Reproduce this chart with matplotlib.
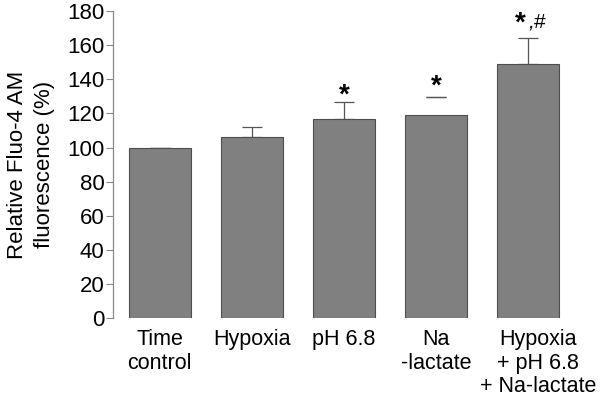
import matplotlib
matplotlib.use('Agg')
import matplotlib.pyplot as plt
import matplotlib.transforms as mtransforms

# Data
groups = ['Time\ncontrol', 'Hypoxia', 'pH 6.8', 'Na\n-lactate',
          'Hypoxia\n+ pH 6.8\n+ Na-lactate']
means = [100, 106, 117, 119, 149]
sem_up = [0, 6, 9.5, 10.5, 15.5]
marks = ['', '', '*', '*', '*,#']
mark_y = [0, 0, 130.5, 136, 172.5]
yticks = [0, 20, 40, 60, 80, 100, 120, 140, 160, 180]

plt.rcParams['font.family'] = ['Liberation Sans', 'DejaVu Sans']

fig = plt.figure(figsize=(6, 3.98), dpi=100)
ax = fig.add_axes([0.188, 0.201, 0.784, 0.771])

x = list(range(len(groups)))
ax.bar(x, means, width=0.67, color='#808080', edgecolor='#4d4d4d',
       linewidth=0.8, zorder=2)

# Error bars (upper only); Na-lactate shows only the cap in the original
stem_idx = [i for i in x if i != 3]
ax.errorbar(stem_idx, [means[i] for i in stem_idx],
            yerr=[[0] * len(stem_idx), [sem_up[i] for i in stem_idx]],
            fmt='none', ecolor='#555555', elinewidth=0.9, capsize=7,
            capthick=0.9, zorder=1)
ax.errorbar([3], [means[3] + sem_up[3]], yerr=[[0], [0]], fmt='none',
            ecolor='#555555', elinewidth=0, capsize=7, capthick=0.9,
            zorder=1)

# Significance marks
for i, m in enumerate(marks):
    if not m:
        continue
    if m == '*':
        ax.text(i, mark_y[i], '*', ha='center', va='center',
                fontsize=20, fontweight='bold', color='black')
    else:
        ax.text(i - 0.08, mark_y[i], '*', ha='center', va='center',
                fontsize=20, fontweight='bold', color='black')
        ax.text(i + 0.01, mark_y[i] + 1, ',#', ha='left', va='center',
                fontsize=15, style='italic', color='black')

ax.set_ylim(0, 180)
ax.set_xlim(-0.51, 4.6)
ax.set_yticks(yticks)
ax.set_xticks(x)
ax.set_xticklabels(groups, fontsize=15.5, linespacing=1.15)
ax.tick_params(axis='y', labelsize=16, direction='out', length=5,
               width=0.8, color='#888888', pad=1)
ax.tick_params(axis='x', length=0, pad=8)

# last label sits a little right of its bar in the original
shift = mtransforms.ScaledTranslation(10 / 100, 0, fig.dpi_scale_trans)
last = ax.get_xticklabels()[-1]
last.set_transform(last.get_transform() + shift)

for side in ['top', 'right', 'bottom']:
    ax.spines[side].set_visible(False)
ax.spines['left'].set_color('#888888')
ax.spines['left'].set_linewidth(0.9)

ax.set_ylabel('Relative Fluo-4 AM\nfluorescence (%)', fontsize=16,
              linespacing=1.35, labelpad=9)

fig.savefig('out.png', dpi=100)
